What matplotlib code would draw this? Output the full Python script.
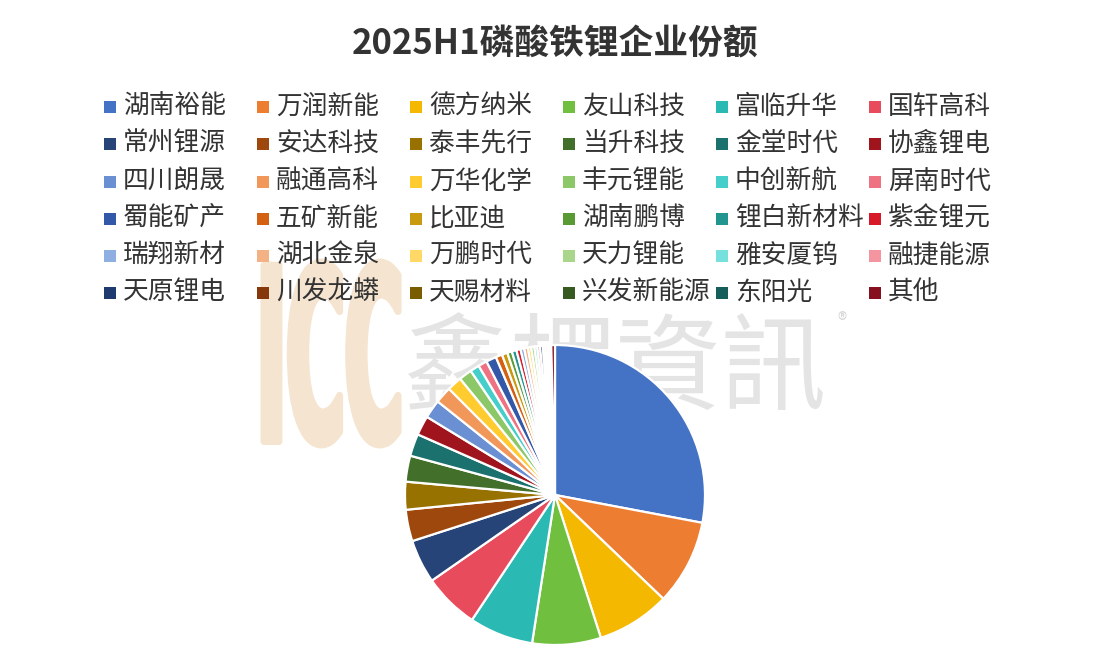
import matplotlib
matplotlib.use("Agg")
import matplotlib.pyplot as plt
from matplotlib.patches import Rectangle, PathPatch
from matplotlib.textpath import TextPath
from matplotlib.font_manager import FontProperties
from matplotlib.transforms import Affine2D

plt.rcParams['font.family'] = ['Noto Sans CJK SC', 'DejaVu Sans']

title = "2025H1磷酸铁锂企业份额"

companies = [
    "湖南裕能", "万润新能", "德方纳米", "友山科技", "富临升华", "国轩高科",
    "常州锂源", "安达科技", "泰丰先行", "当升科技", "金堂时代", "协鑫锂电",
    "四川朗晟", "融通高科", "万华化学", "丰元锂能", "中创新航", "屏南时代",
    "蜀能矿产", "五矿新能", "比亚迪", "湖南鹏博", "锂白新材料", "紫金锂元",
    "瑞翔新材", "湖北金泉", "万鹏时代", "天力锂能", "雅安厦钨", "融捷能源",
    "天原锂电", "川发龙蟒", "天赐材料", "兴发新能源", "东阳光", "其他",
]

shares = [
    28.0, 9.2, 7.9, 7.4, 6.9, 6.0,
    4.7, 3.4, 3.0, 2.8, 2.4, 2.1,
    2.0, 1.8, 1.6, 1.4, 1.0, 0.95,
    1.1, 0.7, 0.6, 0.5, 0.5, 0.45,
    0.4, 0.4, 0.35, 0.35, 0.3, 0.3,
    0.3, 0.25, 0.25, 0.2, 0.2, 0.4,
]

colors = [
    "#4472C4", "#ED7D31", "#F5B800", "#70BF3F", "#2BB9B4", "#E84B5C",
    "#264478", "#9E480E", "#977200", "#42702A", "#1A716E", "#A0141E",
    "#6A8FD2", "#F1975A", "#FFCB2E", "#8CC868", "#46CFCA", "#EE7282",
    "#3358A8", "#D46012", "#C99A10", "#5A9A35", "#22958F", "#D8192A",
    "#8FAEE2", "#F4B183", "#FFD966", "#A9D68A", "#76E0DC", "#F595A0",
    "#1F3A6E", "#84380C", "#7A5C00", "#365A20", "#155E5B", "#861020",
]

fig = plt.figure(figsize=(11.1, 6.7), dpi=100)
fig.patch.set_facecolor("white")

W, H = 1110.0, 670.0

def fx(px):
    return px / W

def fy(py):
    return 1 - py / H

# --- watermark (behind everything) ---
fp_icc = FontProperties(family="DejaVu Sans", weight="bold")
tp = TextPath((0, 0), "ICC", size=1, prop=fp_icc)
ext = tp.get_extents()
x0, y0, x1, y1 = 264, 262, 398, 445  # pixel box (top-left origin)
sx = (fx(x1) - fx(x0)) / ext.width
sy = (fy(y0) - fy(y1)) / ext.height
tr = Affine2D().translate(-ext.x0, -ext.y0).scale(sx, sy).translate(fx(x0), fy(y1)) + fig.transFigure
fig.patches.append(PathPatch(tp, transform=tr, facecolor="#F5E5D0", edgecolor="#F5E5D0",
                             linewidth=5, joinstyle="round", zorder=0))

fig.text(fx(615), fy(372), "鑫椤資訊", fontsize=76, color="#A8A8A8", alpha=0.3,
         ha="center", va="center", family=["Noto Sans CJK TC", "DejaVu Sans"],
         fontweight="light", zorder=0)
fig.text(fx(842), fy(322), "®", fontsize=14, color="#A8A8A8", alpha=0.45,
         ha="center", va="center", zorder=0)

# --- title ---
fig.text(0.5, fy(44), title, fontsize=25, fontweight="bold", color="#333333",
         ha="center", va="center", zorder=3)

# --- legend (6 columns x 6 rows) ---
col_x = [110, 263, 416, 569, 722, 875]
row_y = [107, 144, 182, 219, 256, 293]
for i, (name, c) in enumerate(zip(companies, colors)):
    r, k = divmod(i, 6)
    mx, my = col_x[k], row_y[r]
    fig.patches.append(Rectangle((fx(mx - 6), fy(my + 6)), fx(12), 12 / H,
                                 transform=fig.transFigure, facecolor=c,
                                 edgecolor="none", zorder=3))
    fig.text(fx(mx + 13), fy(my), name, fontsize=18.5, color="#333333",
             ha="left", va="center", zorder=3)

# --- pie ---
cx, cy, rad = 555, 495, 150
ax = fig.add_axes([fx(cx - rad), fy(cy + rad), fx(2 * rad), 2 * rad / H])
ax.pie(shares, colors=colors, startangle=90, counterclock=False,
       wedgeprops=dict(edgecolor="white", linewidth=1.6))
ax.set_xlim(-1.0, 1.0)
ax.set_ylim(-1.0, 1.0)
ax.set_aspect("equal")
ax.set_zorder(2)
ax.patch.set_alpha(0)

fig.savefig("out.png", dpi=100, facecolor="white")
